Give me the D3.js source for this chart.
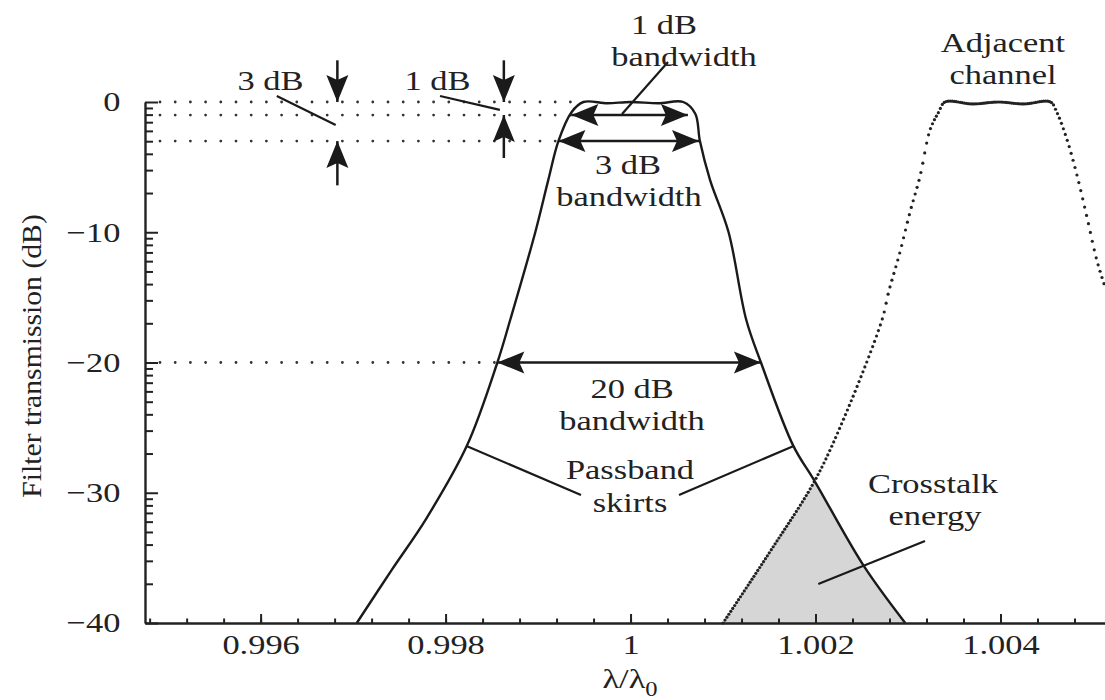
<!DOCTYPE html>
<html>
<head>
<meta charset="utf-8">
<script src="https://d3js.org/d3.v7.min.js"></script>
<style>
  html, body { margin: 0; padding: 0; background: #fff; }
  svg { display: block; }
  text { font-family: "Liberation Serif", "Times New Roman", serif; fill: #222; }
</style>
</head>
<body>
<div id="chart"></div>
<script>
// filter passband (lambda/lambda0, dB)
const mainLambda = [0.99704, 0.99742, 0.99779, 0.99823, 0.99856, 0.99870, 0.99897, 0.99911, 0.99922, 0.99936,
  0.99949, 0.99975, 1.00000, 1.00030, 1.00057, 1.00070, 1.00075, 1.00086, 1.00106, 1.00125,
  1.00141, 1.00176, 1.00199, 1.00252, 1.00297];
const mainDb = [-40, -35.9, -32.0, -26.4, -20.0, -16.7, -10.0, -6.0, -3.0, -0.8,
  0, -0.1, 0, -0.1, 0, -0.9, -3.0, -6.0, -10.0, -16.7,
  -20.0, -26.4, -29.1, -35.6, -40];

// adjacent channel (dotted)
const adjLambda = [1.00100, 1.00151, 1.00199, 1.00230, 1.00272, 1.00279, 1.00291, 1.00302, 1.00313, 1.00324,
  1.00333, 1.00340, 1.00370, 1.00398, 1.00425, 1.00454, 1.00461, 1.00472, 1.00483, 1.00494,
  1.00504, 1.00513];
const adjDb = [-40, -34.5, -29.1, -24.4, -16.7, -14.6, -11.6, -8.5, -5.7, -2.1,
  -0.8, 0, -0.15, 0, -0.15, 0, -0.8, -2.9, -5.7, -9.0,
  -12.1, -14.2];

const xTickValues = [0.996, 0.998, 1, 1.002, 1.004];
const xTickLabels = ['0.996', '0.998', '1', '1.002', '1.004'];
const yTickValues = [0, -10, -20, -30, -40];
const yTickLabels = ['0', '\u221210', '\u221220', '\u221230', '\u221240'];

// dotted guide lines: level (dB) and where they meet the curve
const guideDb = [0, -1, -3, -20];
const guideEnd = [0.99949, 0.99935, 0.99922, 0.99856];

const width = 1105, height = 700;
const margin = { top: 102, right: 0, bottom: 77, left: 145 };
const innerW = width - margin.left - margin.right;
const innerH = height - margin.top - margin.bottom;
const FONT = '28px';
const STRETCH = 'scale(1.23,1)'; // glyphs in the figure are a bit wide

const svg = d3.select('#chart').append('svg')
    .attr('width', width)
    .attr('height', height);

const g = svg.append('g')
    .attr('transform', `translate(${margin.left},${margin.top})`);

const x = d3.scaleLinear().domain([0.99475, 1.00513]).range([0, innerW]);
const y = d3.scaleLinear().domain([-40, 0]).range([innerH, 0]);

const mainPts = mainLambda.map((l, i) => [l, mainDb[i]]);
const adjPts = adjLambda.map((l, i) => [l, adjDb[i]]);

const curve = d3.curveCatmullRom.alpha(0.5);
const line = d3.line().x(d => x(d[0])).y(d => y(d[1])).curve(curve);
const area = d3.area().x(d => x(d[0])).y0(y(-40)).y1(d => y(d[1])).curve(curve);

// crosstalk = region under both curves
const defs = svg.append('defs');
defs.append('clipPath').attr('id', 'under-main')
  .append('path').attr('d', area(mainPts));

g.append('path')
    .attr('d', area(adjPts))
    .attr('clip-path', 'url(#under-main)')
    .attr('fill', '#d6d6d6');

// guide lines
guideDb.forEach((db, i) => {
  g.append('line')
      .attr('x1', x(0.99475) + 15).attr('x2', x(guideEnd[i]))
      .attr('y1', y(db)).attr('y2', y(db))
      .attr('stroke', '#333')
      .attr('stroke-width', 2.8)
      .attr('stroke-linecap', 'round')
      .attr('stroke-dasharray', '0 15.2');
});

// main channel
g.append('path')
    .attr('d', line(mainPts))
    .attr('fill', 'none')
    .attr('stroke', '#1a1a1a')
    .attr('stroke-width', 2.4);

// adjacent channel drawn as sampled dots
const adjPath = g.append('path')
    .attr('d', line(adjPts))
    .attr('fill', 'none')
    .attr('stroke', 'none');
const node = adjPath.node();
const total = node.getTotalLength();
const dots = [];
let lastX = -Infinity;
for (let s = 0; s <= total; s += 0.25) {
  const p = node.getPointAtLength(s);
  if (p.x - lastX >= 1.9) { dots.push(p); lastX = p.x; }
}
g.selectAll('.adj-dot')
    .data(dots.filter(p => p.x <= innerW))
  .enter().append('circle')
    .attr('class', 'adj-dot')
    .attr('cx', d => d.x)
    .attr('cy', d => d.y)
    .attr('r', 1.6)
    .attr('fill', '#222');

// axes
const xMinor = d3.range(0, 27).map(i => 0.9948 + i * 0.0004);
g.append('g')
    .attr('transform', `translate(0,${innerH})`)
    .call(d3.axisBottom(x).tickValues(xMinor).tickSize(-4.5).tickSizeOuter(0).tickFormat(''))
    .call(a => a.select('.domain').remove());
const xAxis = g.append('g')
    .attr('transform', `translate(0,${innerH})`)
    .call(d3.axisBottom(x).tickValues(xTickValues).tickSize(-9).tickSizeOuter(0).tickPadding(11)
      .tickFormat((d, i) => xTickLabels[i]));
xAxis.selectAll('text').style('font-size', FONT).attr('fill', '#222').attr('transform', STRETCH);

// minor y ticks sit at 10*log10 of linear transmission steps
const yMinor = [];
[0, 1, 2, 3].forEach(m => {
  d3.range(2, 10).forEach(k => yMinor.push(10 * Math.log10(k * Math.pow(10, -(m + 1)))));
});
g.append('g')
    .call(d3.axisLeft(y).tickValues(yMinor).tickSize(-8).tickSizeOuter(0).tickFormat(''))
    .call(a => a.select('.domain').remove());
const yAxis = g.append('g')
    .call(d3.axisLeft(y).tickValues(yTickValues).tickSize(-13).tickSizeOuter(0).tickPadding(20)
      .tickFormat((d, i) => yTickLabels[i]));
yAxis.selectAll('text').style('font-size', FONT).attr('fill', '#222').attr('transform', STRETCH);

g.selectAll('.tick line').attr('stroke', '#222').attr('stroke-width', 2);
g.selectAll('.domain').attr('stroke', '#222').attr('stroke-width', 2.4);

// axis titles
svg.append('text')
    .attr('transform', 'translate(41,356) rotate(-90) scale(1.06,1)')
    .attr('text-anchor', 'middle')
    .style('font-size', FONT)
    .text('Filter transmission (dB)');

const xt = svg.append('text')
    .attr('transform', `translate(630,688) ${STRETCH}`)
    .attr('text-anchor', 'middle')
    .style('font-size', FONT);
xt.append('tspan').text('\u03bb/\u03bb');
xt.append('tspan').attr('dy', 8).style('font-size', '20px').text('0');

// annotations
const headPath = 'M0,0 L-27,-11 L-22,0 L-27,11 Z';

function arrow(x1, y1, x2, y2, both) {
  g.append('line')
      .attr('x1', x1).attr('y1', y1).attr('x2', x2).attr('y2', y2)
      .attr('stroke', '#1a1a1a').attr('stroke-width', 2.5);
  const ang = Math.atan2(y2 - y1, x2 - x1) * 180 / Math.PI;
  g.append('path').attr('d', headPath).attr('fill', '#1a1a1a')
      .attr('transform', `translate(${x2},${y2}) rotate(${ang})`);
  if (both) {
    g.append('path').attr('d', headPath).attr('fill', '#1a1a1a')
        .attr('transform', `translate(${x1},${y1}) rotate(${ang + 180})`);
  }
}

const vArrows = [
  { lambda: 0.99683, from: 3.2, to: 0 },
  { lambda: 0.99683, from: -6.4, to: -3 },
  { lambda: 0.99863, from: 3.2, to: 0 },
  { lambda: 0.99863, from: -4.3, to: -1 }
];
vArrows.forEach(a => arrow(x(a.lambda), y(a.from), x(a.lambda), y(a.to), false));

const hArrows = [
  { db: -1, from: 0.99936, to: 1.00062 },
  { db: -3, from: 0.99922, to: 1.00074 },
  { db: -20, from: 0.99856, to: 1.00141 }
];
hArrows.forEach(a => arrow(x(a.from), y(a.db), x(a.to), y(a.db), true));

const leaders = [
  [[0.996175, 0.46], [0.996812, -1.77]],
  [[0.997940, 0.46], [0.998587, -0.61]],
  [[0.999908, -0.92], [1.000405, 3.07]],
  [[0.998226, -26.41], [0.999464, -30.17]],
  [[1.001764, -26.41], [1.000524, -30.17]],
  [[1.002030, -37.0], [1.003184, -33.7]]
];
leaders.forEach(l => {
  g.append('line')
      .attr('x1', x(l[0][0])).attr('y1', y(l[0][1]))
      .attr('x2', x(l[1][0])).attr('y2', y(l[1][1]))
      .attr('stroke', '#1a1a1a').attr('stroke-width', 2.2);
});

const labels = [
  { text: '3 dB', lambda: 0.996107, db: 0.92 },
  { text: '1 dB', lambda: 0.997913, db: 0.92 },
  { text: '1 dB', lambda: 1.000362, db: 5.24 },
  { text: 'bandwidth', lambda: 1.000578, db: 2.78 },
  { text: 'Adjacent', lambda: 1.004027, db: 3.86 },
  { text: 'channel', lambda: 1.004027, db: 1.42 },
  { text: '3 dB', lambda: 0.999972, db: -5.53 },
  { text: 'bandwidth', lambda: 0.999983, db: -7.98 },
  { text: '20 dB', lambda: 1.000016, db: -22.73 },
  { text: 'bandwidth', lambda: 1.000016, db: -25.18 },
  { text: 'Passband', lambda: 0.999994, db: -28.94 },
  { text: 'skirts', lambda: 0.999994, db: -31.48 },
  { text: 'Crosstalk', lambda: 1.003270, db: -30.02 },
  { text: 'energy', lambda: 1.003292, db: -32.50 }
];
g.selectAll('.note')
    .data(labels)
  .enter().append('text')
    .attr('class', 'note')
    .attr('transform', d => `translate(${x(d.lambda)},${y(d.db)}) ${STRETCH}`)
    .attr('text-anchor', 'middle')
    .style('font-size', FONT)
    .text(d => d.text);
</script>
</body>
</html>
